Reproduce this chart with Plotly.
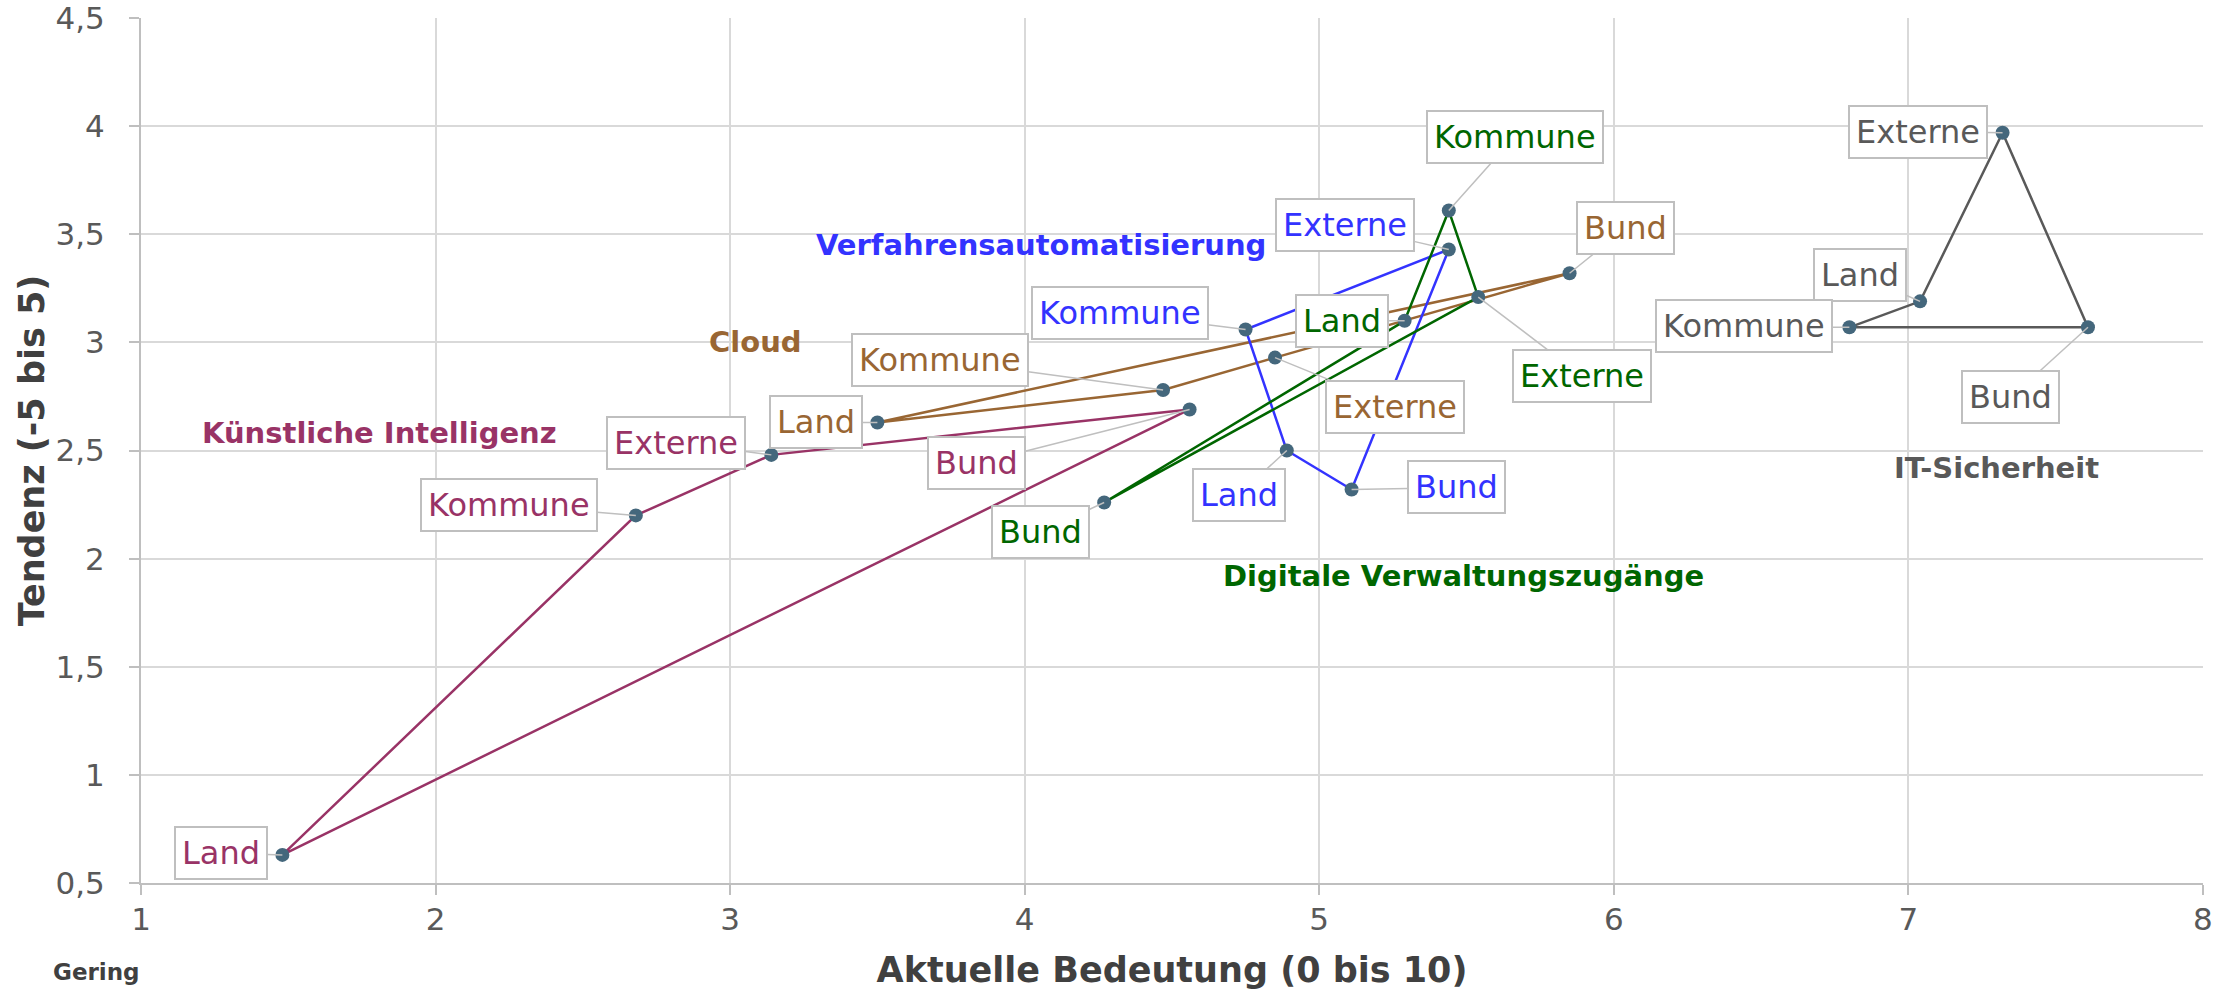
import plotly.graph_objects as go

# ---------------- data ----------------
stakeholders = ["Bund", "Land", "Kommune", "Externe"]

groups = ["Künstliche Intelligenz", "Cloud", "Verfahrensautomatisierung",
          "Digitale Verwaltungszugänge", "IT-Sicherheit"]

# Aktuelle Bedeutung (x) / Tendenz (y) per group, order: Bund, Land, Kommune, Externe
ki_x = [4.56, 1.48, 2.68, 3.14]
ki_y = [2.69, 0.63, 2.20, 2.48]

cloud_x = [5.85, 3.50, 4.47, 4.85]
cloud_y = [3.32, 2.63, 2.78, 2.93]

va_x = [5.11, 4.89, 4.75, 5.44]
va_y = [2.32, 2.50, 3.06, 3.43]

dvz_x = [4.27, 5.29, 5.44, 5.54]
dvz_y = [2.26, 3.10, 3.61, 3.21]

its_x = [7.61, 7.04, 6.80, 7.32]
its_y = [3.07, 3.19, 3.07, 3.97]

# order in which the points are connected (closed polygon)
ki_path = ["Land", "Kommune", "Externe", "Bund"]
cloud_path = ["Land", "Kommune", "Externe", "Bund"]
va_path = ["Land", "Kommune", "Externe", "Bund"]
dvz_path = ["Land", "Kommune", "Externe", "Bund"]
its_path = ["Kommune", "Land", "Externe", "Bund"]

x_tickvals = [1, 2, 3, 4, 5, 6, 7, 8]
x_ticktext = ["1", "2", "3", "4", "5", "6", "7", "8"]
y_tickvals = [0.5, 1, 1.5, 2, 2.5, 3, 3.5, 4, 4.5]
y_ticktext = ["0,5", "1", "1,5", "2", "2,5", "3", "3,5", "4", "4,5"]

# ---------------- styles ----------------
colors = {
    "Künstliche Intelligenz": "#993366",
    "Cloud": "#996633",
    "Verfahrensautomatisierung": "#3333FF",
    "Digitale Verwaltungszugänge": "#006600",
    "IT-Sicherheit": "#595959",
}
marker_color = "#44677C"
FONT = "DejaVu Sans"

series = {
    "Künstliche Intelligenz": (ki_x, ki_y, ki_path),
    "Cloud": (cloud_x, cloud_y, cloud_path),
    "Verfahrensautomatisierung": (va_x, va_y, va_path),
    "Digitale Verwaltungszugänge": (dvz_x, dvz_y, dvz_path),
    "IT-Sicherheit": (its_x, its_y, its_path),
}

# label box offsets (pixels, box centre relative to point)
label_offsets = {
    "Künstliche Intelligenz": {"Land": (-61, -2), "Kommune": (-127, -10),
                               "Externe": (-95, -12), "Bund": (-213, 54)},
    "Cloud": {"Land": (-61, 0), "Kommune": (-223, -30),
              "Externe": (120, 49), "Bund": (56, -45)},
    "Verfahrensautomatisierung": {"Kommune": (-126, -16), "Externe": (-104, -24),
                                  "Land": (-48, 44), "Bund": (105, -2)},
    "Digitale Verwaltungszugänge": {"Kommune": (66, -74), "Land": (-63, 0),
                                    "Externe": (104, 79), "Bund": (-64, 30)},
    "IT-Sicherheit": {"Externe": (-85, -1), "Land": (-60, -26),
                      "Kommune": (-105, -1), "Bund": (-77, 70)},
}

# group title positions (data coordinates)
group_label_pos = {
    "Künstliche Intelligenz": (1.81, 2.58),
    "Cloud": (3.085, 3.0),
    "Verfahrensautomatisierung": (4.055, 3.45),
    "Digitale Verwaltungszugänge": (5.49, 1.92),
    "IT-Sicherheit": (7.30, 2.42),
}

fig = go.Figure()

# lines
for g in groups:
    xs, ys, path = series[g]
    idx = [stakeholders.index(p) for p in path] + [stakeholders.index(path[0])]
    fig.add_trace(go.Scatter(
        x=[xs[i] for i in idx], y=[ys[i] for i in idx],
        mode="lines", line=dict(color=colors[g], width=2.5),
        name=g, showlegend=False, hoverinfo="skip"))

# markers
for g in groups:
    xs, ys, path = series[g]
    fig.add_trace(go.Scatter(
        x=xs, y=ys, mode="markers", text=stakeholders,
        marker=dict(color=marker_color, size=14, line=dict(width=0)),
        name=g, showlegend=False))

annotations = []
for g in groups:
    xs, ys, path = series[g]
    for i, s in enumerate(stakeholders):
        ax, ay = label_offsets[g][s]
        annotations.append(dict(
            x=xs[i], y=ys[i], xref="x", yref="y", text=s,
            showarrow=True, arrowhead=0, arrowwidth=1.5, arrowcolor="#BFBFBF",
            ax=ax, ay=ay, standoff=0,
            font=dict(family=FONT, size=32, color=colors[g]),
            bgcolor="#FFFFFF", bordercolor="#BFBFBF", borderwidth=2, borderpad=6))
    gx, gy = group_label_pos[g]
    annotations.append(dict(
        x=gx, y=gy, xref="x", yref="y", text="<b>%s</b>" % g, showarrow=False,
        font=dict(family=FONT, size=29, color=colors[g]),
        xanchor="center", yanchor="middle"))

annotations.append(dict(
    x=-0.0218, y=-0.103, xref="paper", yref="paper", text="<b>Gering</b>",
    showarrow=False, xanchor="center", yanchor="middle",
    font=dict(family=FONT, size=23, color="#404040")))

fig.update_layout(
    width=2229, height=991, autosize=False,
    margin=dict(l=141, r=26, t=18, b=108),
    paper_bgcolor="white", plot_bgcolor="white",
    font=dict(family=FONT, color="#595959"),
    annotations=annotations,
    showlegend=False,
)

fig.update_xaxes(
    range=[1, 8.0005], tickvals=x_tickvals, ticktext=x_ticktext,
    automargin=False, ticklabeloverflow="allow",
    showgrid=True, gridcolor="#D9D9D9", gridwidth=2,
    showline=True, linecolor="#BFBFBF", linewidth=2,
    ticks="outside", ticklen=10, tickwidth=2, tickcolor="#BFBFBF",
    tickfont=dict(family=FONT, size=31, color="#595959"),
    ticklabelstandoff=-2, zeroline=False,
    title=dict(text="<b>Aktuelle Bedeutung (0 bis 10)</b>",
               font=dict(family=FONT, size=35, color="#404040"), standoff=21),
)
fig.update_yaxes(
    range=[0.5, 4.5005], tickvals=y_tickvals, ticktext=y_ticktext,
    automargin=False, ticklabeloverflow="allow",
    showgrid=True, gridcolor="#D9D9D9", gridwidth=2,
    showline=True, linecolor="#BFBFBF", linewidth=2,
    ticks="outside", ticklen=10, tickwidth=2, tickcolor="#BFBFBF",
    tickfont=dict(family=FONT, size=31, color="#595959"),
    ticklabelstandoff=18, zeroline=False,
    title=dict(text="<b>Tendenz (-5 bis 5)</b>",
               font=dict(family=FONT, size=35, color="#404040"), standoff=0),
)

# remove the browser's default 8px page margin so the figure fills the window
fig.write_html("out.html", config={"displayModeBar": False},
               post_script="document.body.style.margin='0';")
